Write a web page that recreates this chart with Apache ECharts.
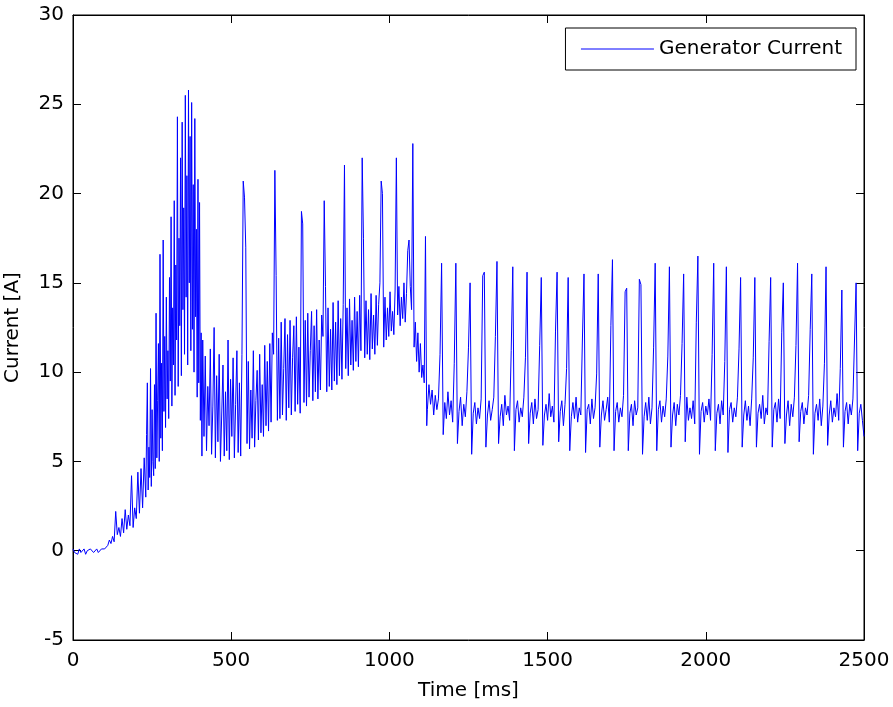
<!DOCTYPE html>
<html>
<head>
<meta charset="utf-8">
<title>Generator Current</title>
<script src="https://cdn.jsdelivr.net/npm/echarts@6/dist/echarts.min.js"></script>
<style>
  html, body { margin: 0; padding: 0; background: #fff; }
  #main-chart { width: 893px; height: 707px; }
</style>
</head>
<body>
<div id="main-chart"></div>
<script>
// Time axis of each recorded segment (ms)
const segmentStartMs = [0, 110, 230, 410, 1120];
const segmentStepMs = [5, 5, 2.5, 4, 5];

// Generator current [A]
const currentQuiet = [0.1, -0.1, 0.0, -0.2, 0.1, -0.1, 0.0, 0.1, -0.2, 0.0, -0.1, 0.1, 0.0, -0.1, 0.0, 0.1, -0.1, 0.0, 0.1, 0.0, 0.1, 0.2];

const currentRise = [0.3, 0.6, 0.4, 0.8, 0.5, 2.2, 0.9, 1.3, 0.8, 1.8, 1.0, 2.3, 1.2, 2.0, 1.4, 4.2, 1.3, 2.4, 1.8, 4.4, 2.1, 4.6, 2.4, 5.2];

const currentBurst = [
  3.0, 6.5, 9.4, 3.4, 5.8, 4.1, 10.2, 3.6, 7.9, 5.0,
  4.2, 9.3, 4.6, 13.3, 5.2, 8.4, 11.6, 5.0, 16.6, 6.3,
  10.5, 5.6, 17.4, 7.8, 12.0, 6.9, 14.2, 8.5, 11.2, 7.4,
  15.3, 9.5, 18.7, 8.1, 13.6, 10.4, 19.6, 8.7, 16.0, 11.8,
  24.3, 9.2, 17.5, 12.6, 22.0, 9.8, 24.0, 13.5, 19.2, 11.0,
  25.5, 14.2, 21.0, 10.4, 25.8, 15.0, 23.2, 11.2, 25.1, 12.4,
  20.5, 10.0, 24.2, 13.1, 18.0, 8.6, 20.8, 9.4, 19.5, 7.3,
  12.2, 5.3
];

const currentRamp = [
  11.8, 6.4, 10.9, 5.6, 9.2, 7.0, 11.3, 5.4, 8.1, 12.5,
  5.2, 9.8, 6.1, 11.0, 5.0, 7.6, 10.4, 5.3, 8.9, 5.6,
  11.8, 5.1, 9.6, 6.4, 10.8, 5.2, 8.2, 11.2, 5.5, 9.4,
  5.3, 11.0, 20.7, 19.8, 17.0, 6.0, 10.6, 5.7, 9.0, 6.3,
  11.2, 5.8, 8.4, 10.1, 6.2, 11.0, 6.6, 9.3, 6.4, 11.5,
  7.0, 10.6, 6.7, 11.6, 7.2, 12.2, 11.0, 21.3, 15.4, 7.3,
  11.9, 7.4, 12.8, 7.6, 10.2, 13.0, 7.3, 12.1, 8.0, 12.9,
  7.6, 10.8, 12.6, 7.8, 13.1, 8.2, 11.4, 7.7, 19.0, 18.3,
  8.3, 12.9, 8.1, 13.3, 8.6, 11.2, 13.4, 8.4, 12.6, 8.9,
  13.5, 8.5, 11.8, 9.0, 13.2, 12.0, 19.6, 14.8, 8.9, 13.6,
  9.2, 12.4, 9.0, 13.9, 9.5, 12.8, 9.3, 14.0, 9.8, 13.0,
  9.6, 13.8, 21.6, 10.2, 13.6, 9.8, 14.1, 10.4, 12.9, 10.1,
  14.2, 10.6, 13.4, 10.3, 14.3, 11.2, 22.0, 17.5, 10.8, 14.0,
  11.0, 13.5, 10.7, 14.4, 11.3, 13.2, 11.0, 14.3, 11.5, 13.8,
  15.0, 20.7, 20.0, 11.4, 14.2, 11.8, 13.6, 12.0, 14.5, 12.3,
  13.4, 12.1, 14.6, 22.0, 13.2, 14.8, 12.6, 14.2, 13.0, 15.0,
  12.8, 14.4, 16.8, 17.4, 14.8, 13.5, 22.8, 11.4, 12.8, 10.6,
  12.2, 10.0, 11.6, 9.7, 10.4, 9.4, 17.6, 7.0
];

const currentSteady = [
  7.9, 9.3, 8.2, 9.0, 7.6, 8.7, 7.9, 8.5, 11.0, 16.1,
  6.5, 8.3, 7.4, 8.9, 7.6, 8.4, 7.2, 10.5, 16.1, 6.0,
  7.8, 8.6, 7.0, 8.2, 7.5, 8.9, 11.4, 15.0, 5.4, 7.7,
  8.3, 7.1, 8.0, 7.4, 8.5, 15.4, 15.6, 5.8, 7.6, 8.4,
  7.3, 7.9, 8.6, 12.0, 16.2, 6.0, 7.5, 8.2, 7.0, 8.7,
  7.6, 8.1, 7.3, 11.2, 15.9, 5.6, 7.9, 8.4, 7.2, 8.0,
  7.5, 8.6, 10.8, 15.6, 6.0, 7.7, 8.3, 7.1, 8.5, 7.4,
  7.9, 11.5, 15.3, 5.9, 7.6, 8.2, 7.3, 8.8, 7.5, 8.1,
  7.2, 12.3, 15.6, 6.1, 7.8, 8.4, 7.0, 8.2, 10.2, 15.3,
  5.6, 7.5, 8.3, 7.4, 8.6, 7.2, 8.0, 7.6, 11.8, 15.5,
  5.5, 7.9, 8.2, 7.1, 8.5, 7.4, 8.0, 9.9, 15.5, 5.8,
  7.6, 8.4, 7.3, 7.9, 8.6, 7.2, 12.6, 16.3, 5.6, 7.8,
  8.3, 7.2, 8.0, 7.5, 8.7, 14.5, 14.7, 5.6, 7.7, 8.2,
  7.0, 8.4, 7.6, 8.0, 15.2, 14.9, 5.4, 7.5, 8.3, 7.3,
  8.6, 7.1, 8.0, 11.4, 16.1, 5.6, 7.9, 8.4, 7.2, 8.1,
  7.5, 8.5, 10.9, 15.9, 5.8, 7.6, 8.3, 7.0, 8.2, 7.6,
  8.7, 11.6, 15.5, 6.1, 8.6, 7.3, 8.0, 7.4, 8.4, 7.1,
  12.8, 16.5, 5.4, 7.8, 8.3, 7.2, 8.1, 7.6, 8.5, 7.3,
  11.0, 16.1, 5.6, 7.7, 8.2, 7.1, 8.4, 7.6, 10.6, 15.9,
  5.5, 7.9, 8.3, 7.2, 8.0, 7.5, 8.6, 11.3, 15.3, 5.8,
  7.6, 8.4, 7.3, 8.1, 7.0, 8.5, 10.8, 15.3, 5.8, 7.7,
  8.2, 7.4, 8.7, 7.1, 8.0, 7.6, 11.7, 15.3, 5.8, 7.9,
  8.3, 7.2, 8.5, 7.4, 12.2, 15.0, 6.0, 7.6, 8.4, 7.0,
  8.2, 7.5, 8.6, 11.5, 16.1, 6.1, 7.8, 8.3, 7.1, 8.0,
  7.6, 8.7, 12.4, 15.5, 5.4, 7.7, 8.2, 7.3, 8.5, 7.0,
  8.1, 10.5, 15.9, 5.9, 7.6, 8.4, 7.2, 8.0, 7.5, 8.8,
  7.3, 10.2, 14.6, 5.8, 7.8, 8.3, 7.1, 8.2, 7.6, 8.5,
  11.8, 15.0, 5.6, 7.7, 8.2, 7.3, 6.4
];

const currentSegments = [currentQuiet, currentRise, currentBurst, currentRamp, currentSteady];

const xTicks = { min: 0, max: 2500, interval: 500 };
const yTicks = { min: -5, max: 30, interval: 5 };

function buildSeries() {
  const data = [];
  currentSegments.forEach((values, s) => {
    values.forEach((v, i) => {
      data.push([segmentStartMs[s] + i * segmentStepMs[s], v]);
    });
  });
  return data;
}

function renderChart() {
  const chart = echarts.init(document.getElementById('main-chart'));
  const font = 'DejaVu Sans, sans-serif';
  const tick = { show: true, inside: true, length: 8, lineStyle: { color: '#000', width: 1 } };
  const plainNumber = v => String(v);

  const option = {
    animation: false,
    textStyle: { fontFamily: font },
    grid: {
      left: 73, right: 29, top: 15, bottom: 67,
      outerBoundsMode: 'none',
      containLabel: false,
      show: true, borderColor: '#000', borderWidth: 1, backgroundColor: '#fff'
    },
    legend: {
      show: true,
      right: 37,
      top: 28,
      orient: 'horizontal',
      padding: [11, 14, 11, 15],
      itemWidth: 73,
      itemHeight: 2,
      itemGap: 7,
      borderColor: '#000',
      borderWidth: 1,
      borderRadius: 0,
      backgroundColor: '#fff',
      lineStyle: { width: 1 },
      itemStyle: { opacity: 0 },
      textStyle: { fontFamily: font, fontSize: 20, color: '#000', padding: [0, 0, 0, 0] },
      data: ['Generator Current']
    },
    xAxis: [
      {
        type: 'value', position: 'bottom', ...xTicks,
        name: 'Time [ms]', nameLocation: 'middle', nameGap: 41,
        nameTextStyle: { fontFamily: font, fontSize: 20, color: '#000' },
        axisLine: { show: true, onZero: false, lineStyle: { color: '#000' } },
        axisTick: tick,
        axisLabel: { color: '#000', fontSize: 20, fontFamily: font, margin: 11, formatter: plainNumber },
        splitLine: { show: false }
      },
      {
        type: 'value', position: 'top', ...xTicks,
        axisLine: { show: true, onZero: false, lineStyle: { color: '#000' } },
        axisTick: tick, axisLabel: { show: false }, splitLine: { show: false }
      }
    ],
    yAxis: [
      {
        type: 'value', position: 'left', ...yTicks,
        name: 'Current [A]', nameLocation: 'middle', nameGap: 50, nameRotate: 90,
        nameTextStyle: { fontFamily: font, fontSize: 20, color: '#000' },
        axisLine: { show: true, onZero: false, lineStyle: { color: '#000' } },
        axisTick: tick,
        axisLabel: { color: '#000', fontSize: 20, fontFamily: font, margin: 9, formatter: plainNumber },
        splitLine: { show: false }
      },
      {
        type: 'value', position: 'right', ...yTicks,
        axisLine: { show: true, onZero: false, lineStyle: { color: '#000' } },
        axisTick: tick, axisLabel: { show: false }, splitLine: { show: false }
      }
    ],
    series: [
      {
        name: 'Generator Current',
        type: 'line',
        data: buildSeries(),
        symbol: 'none',
        showSymbol: false,
        sampling: false,
        color: '#0000ff',
        lineStyle: { color: '#0000ff', width: 1 },
        silent: true
      }
    ]
  };

  chart.setOption(option);
}

window.onload = renderChart;
</script>
</body>
</html>
